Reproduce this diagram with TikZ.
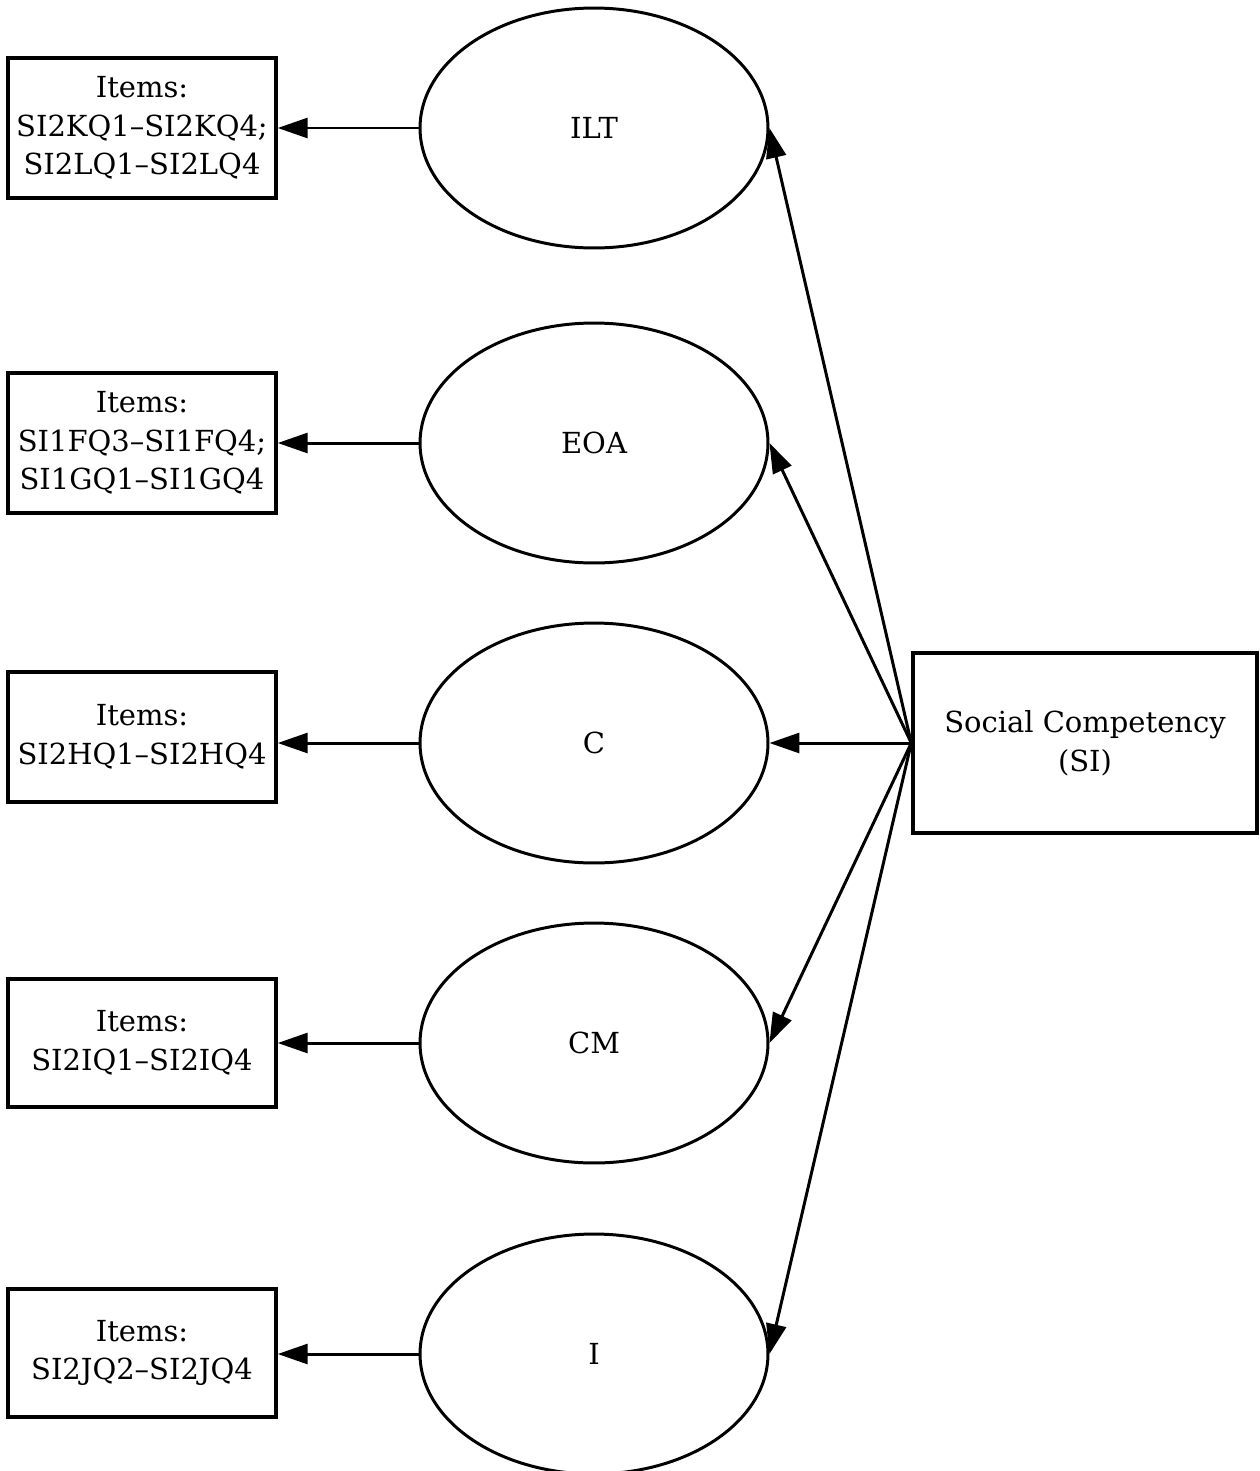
\documentclass[tikz,border=0pt]{standalone}
\usepackage{fontspec}
\setmainfont{DejaVu Serif}
\usetikzlibrary{arrows.meta,shapes.geometric}
\begin{document}
\begin{tikzpicture}[x=0.02cm,y=-0.02cm,
  txt/.style={font=\fontsize{16.5}{22}\selectfont, align=center},
  itembox/.style={txt, draw, line width=2pt, minimum width=5.36cm, inner sep=0pt},
  factor/.style={txt, draw, ellipse, line width=1.7pt, minimum width=6.96cm, minimum height=4.8cm, inner sep=0pt},
  arr/.style={line width=1.7pt, -{Triangle[length=0.6cm,width=0.4cm]}}]
\useasboundingbox (0,0) rectangle (1259,1471);

% first-order factors
\node[factor] (ilt) at (594,128) {ILT};
\node[factor] (eoa) at (594,443) {EOA};
\node[factor] (c)   at (594,743) {C};
\node[factor] (cm)  at (594,1043) {CM};
\node[factor] (i)   at (594,1354) {I};

% item groups
\node[itembox, minimum height=2.8cm] (b1) at (142,128) {Items:\\SI2KQ1–SI2KQ4;\\SI2LQ1–SI2LQ4};
\node[itembox, minimum height=2.8cm] (b2) at (142,443) {Items:\\SI1FQ3–SI1FQ4;\\SI1GQ1–SI1GQ4};
\node[itembox, minimum height=2.6cm] (b3) at (142,737) {Items:\\SI2HQ1–SI2HQ4};
\node[itembox, minimum height=2.56cm] (b4) at (142,1043) {Items:\\SI2IQ1–SI2IQ4};
\node[itembox, minimum height=2.56cm] (b5) at (142,1353) {Items:\\SI2JQ2–SI2JQ4};

% second-order construct
\node[txt, draw, line width=2pt, minimum width=6.88cm, minimum height=3.6cm, inner sep=0pt] (si) at (1085,743) {Social Competency\\(SI)};

% loadings
\foreach \f in {ilt,eoa,c,cm,i}
  \draw[arr] (si.west) -- (\f.east);

\draw[arr] (ilt.west) -- (ilt.west -| b1.east);
\draw[arr] (eoa.west) -- (eoa.west -| b2.east);
\draw[arr] (c.west)   -- (c.west -| b3.east);
\draw[arr] (cm.west)  -- (cm.west -| b4.east);
\draw[arr] (i.west)   -- (i.west -| b5.east);
\end{tikzpicture}
\end{document}
